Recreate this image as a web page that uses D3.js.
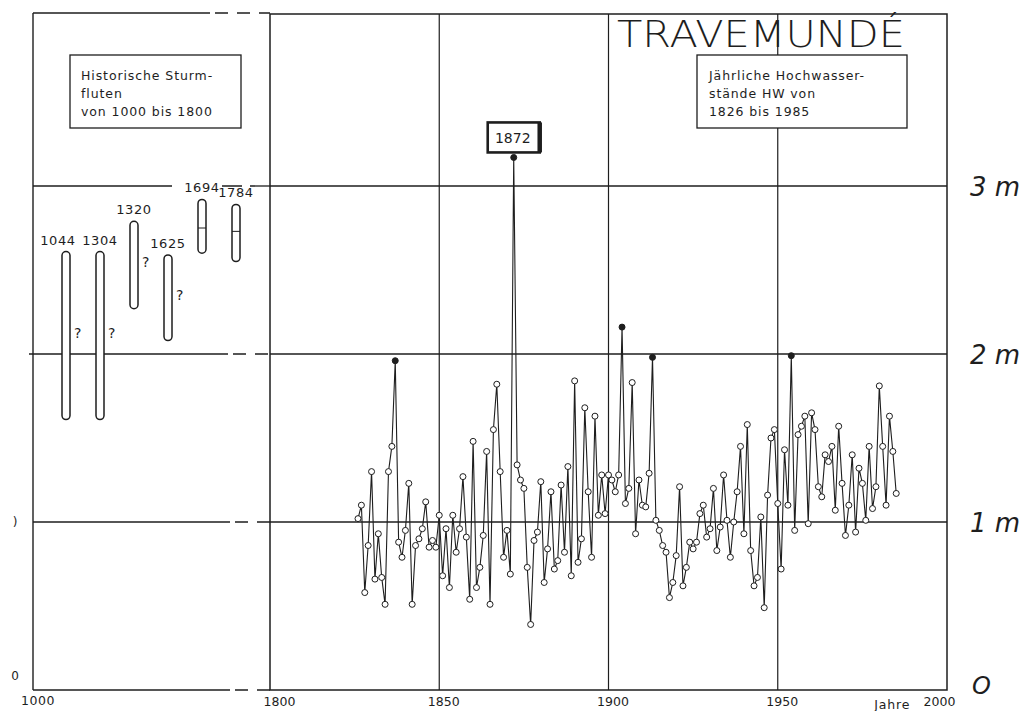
<!DOCTYPE html>
<html>
<head>
<meta charset="utf-8">
<script src="https://cdn.jsdelivr.net/npm/d3@7"></script>
<style>
  body { margin: 0; background: #fff; }
  svg { display: block; }
  text { font-family: "DejaVu Sans", sans-serif; fill: #1e1e1e; }
  .hand { font-family: "DejaVu Sans", sans-serif; font-style: italic; font-weight: 200; }
</style>
</head>
<body>
<svg id="chart" width="1025" height="711"></svg>
<script>
// yearly high water levels at Travemuende, 1826..1985 (m)
const firstYear = 1826;
const hw = [
  1.02, 1.10, 0.58, 0.86, 1.30, 0.66, 0.93, 0.67, 0.51, 1.30,
  1.45, 1.96, 0.88, 0.79, 0.95, 1.23, 0.51, 0.86, 0.90, 0.96,
  1.12, 0.85, 0.89, 0.85, 1.04, 0.68, 0.96, 0.61, 1.04, 0.82,
  0.96, 1.27, 0.91, 0.54, 1.48, 0.61, 0.73, 0.92, 1.42, 0.51,
  1.55, 1.82, 1.30, 0.79, 0.95, 0.69, 3.17, 1.34, 1.25, 1.20,
  0.73, 0.39, 0.89, 0.94, 1.24, 0.64, 0.84, 1.18, 0.72, 0.77,
  1.22, 0.82, 1.33, 0.68, 1.84, 0.76, 0.90, 1.68, 1.18, 0.79,
  1.63, 1.04, 1.28, 1.05, 1.28, 1.25, 1.18, 1.28, 2.16, 1.11,
  1.20, 1.83, 0.93, 1.25, 1.10, 1.09, 1.29, 1.98, 1.01, 0.95,
  0.86, 0.82, 0.55, 0.64, 0.80, 1.21, 0.62, 0.73, 0.88, 0.84,
  0.88, 1.05, 1.10, 0.91, 0.96, 1.20, 0.83, 0.97, 1.28, 1.01,
  0.79, 1.00, 1.18, 1.45, 0.93, 1.58, 0.83, 0.62, 0.67, 1.03,
  0.49, 1.16, 1.50, 1.55, 1.11, 0.72, 1.43, 1.10, 1.99, 0.95,
  1.52, 1.57, 1.63, 0.99, 1.65, 1.55, 1.21, 1.15, 1.40, 1.36,
  1.45, 1.07, 1.57, 1.23, 0.92, 1.10, 1.40, 0.94, 1.32, 1.23,
  1.01, 1.45, 1.08, 1.21, 1.81, 1.45, 1.10, 1.63, 1.42, 1.17
];
const markedYears = [1837, 1872, 1904, 1913, 1954];
const labelledYear = 1872;

// historical storm surges 1000..1800 (range bars)
const events = ['1044', '1304', '1320', '1625', '1694', '1784'];
const evTop = [2.61, 2.61, 2.79, 2.59, 2.92, 2.89];
const evBottom = [1.61, 1.61, 2.27, 2.08, 2.60, 2.55];
const evMid = [null, null, null, null, 2.75, 2.73];
const evUnsure = [true, true, true, true, false, false];

const yearTicks = [1800, 1850, 1900, 1950, 2000];
const levelTicks = [0, 1, 2, 3];
const levelLabels = ['O', '1 m', '2 m', '3 m'];
const leftTickLabels = ['0', ')'];

const title = 'TRAVEMUNDÉ';
const histLegend = ['Historische Sturm-', 'fluten', 'von 1000 bis 1800'];
const hwLegend = ['Jährliche Hochwasser-', 'stände HW von', '1826 bis 1985'];

const data = hw.map((v, i) => ({ year: firstYear + i, v, marked: markedYears.includes(firstYear + i) }));

const svg = d3.select('#chart');
const x = d3.scaleLinear().domain([1800, 2000]).range([270, 947]);
const y = d3.scaleLinear().domain([0, 3]).range([690, 186]);
const xl = d3.scalePoint().domain(events).range([66, 236]);
const leftX0 = 33, topY = 14;
const ink = '#1e1e1e';

// --- left panel (historic) ---
const left = svg.append('g');
left.append('line').attr('x1', leftX0).attr('x2', leftX0).attr('y1', topY - 1).attr('y2', y(0))
  .attr('stroke', ink).attr('stroke-width', 1.4);
// top, gridlines and bottom: solid part then dashed toward the main panel
[[topY - 1, 210], [y(2), 228], [y(1), 230], [y(0), 230]].forEach(([yy, end]) => {
  left.append('line').attr('x1', leftX0 - (yy === y(2) ? 4 : 0)).attr('x2', end).attr('y1', yy).attr('y2', yy)
    .attr('stroke', ink).attr('stroke-width', 1.3);
  left.append('line').attr('x1', end + 5).attr('x2', x(1800)).attr('y1', yy).attr('y2', yy)
    .attr('stroke', ink).attr('stroke-width', 1.3).attr('stroke-dasharray', '13,9');
});
left.append('line').attr('x1', leftX0).attr('x2', 172).attr('y1', y(3)).attr('y2', y(3))
  .attr('stroke', ink).attr('stroke-width', 1.3);
left.append('line').attr('x1', 222).attr('x2', x(1800)).attr('y1', y(3)).attr('y2', y(3))
  .attr('stroke', ink).attr('stroke-width', 1.3).attr('stroke-dasharray', '20,8');

left.selectAll('rect.ev').data(events).join('rect').attr('class', 'ev')
  .attr('x', d => xl(d) - 4).attr('width', 8)
  .attr('y', (d, i) => y(evTop[i])).attr('height', (d, i) => y(evBottom[i]) - y(evTop[i]))
  .attr('rx', 4).attr('fill', '#fff').attr('stroke', ink).attr('stroke-width', 1.5);
left.selectAll('line.mid').data(events.filter((d, i) => evMid[i] != null)).join('line').attr('class', 'mid')
  .attr('x1', d => xl(d) - 4).attr('x2', d => xl(d) + 4)
  .attr('y1', d => y(evMid[events.indexOf(d)])).attr('y2', d => y(evMid[events.indexOf(d)]))
  .attr('stroke', ink).attr('stroke-width', 1);
left.selectAll('text.ev').data(events).join('text').attr('class', 'ev')
  .attr('x', (d, i) => xl(d) - (i === 0 ? 8 : 0)).attr('y', (d, i) => y(evTop[i]) - 7)
  .attr('text-anchor', 'middle').attr('font-size', 13).attr('letter-spacing', 0.6).text(d => d);
left.selectAll('text.q').data(events.filter((d, i) => evUnsure[i])).join('text').attr('class', 'q')
  .attr('x', d => xl(d) + 8)
  .attr('y', d => { const i = events.indexOf(d); return (y(evTop[i]) + y(evBottom[i])) / 2 + 2; })
  .attr('font-size', 14).text('?');

left.selectAll('text.lt').data(leftTickLabels).join('text').attr('class', 'lt')
  .attr('x', 15).attr('y', (d, i) => y(i) + (i === 0 ? -10 : 4))
  .attr('text-anchor', 'middle').attr('font-size', 12).text(d => d);
left.append('text').attr('x', 38).attr('y', 705).attr('text-anchor', 'middle').attr('font-size', 12.5)
  .attr('letter-spacing', 0.5).text('1000');

const lb = left.append('g');
lb.append('rect').attr('x', 70).attr('y', 55).attr('width', 171).attr('height', 73)
  .attr('fill', '#fff').attr('stroke', ink).attr('stroke-width', 1.3);
lb.selectAll('text').data(histLegend).join('text').attr('x', 81).attr('y', (d, i) => 80 + i * 18)
  .attr('font-size', 12.5).attr('letter-spacing', 0.9).text(d => d);

// --- main panel ---
const main = svg.append('g');
main.append('rect').attr('x', x(1800)).attr('y', topY).attr('width', x(2000) - x(1800)).attr('height', y(0) - topY)
  .attr('fill', 'none').attr('stroke', ink).attr('stroke-width', 1.5);

const grid = main.append('g');
grid.selectAll('line.h').data(levelTicks.slice(1)).join('line').attr('class', 'h')
  .attr('x1', x(1800)).attr('x2', x(2000)).attr('y1', d => y(d)).attr('y2', d => y(d))
  .attr('stroke', ink).attr('stroke-width', 1.3);
grid.selectAll('line.v').data(yearTicks.slice(1, -1)).join('line').attr('class', 'v')
  .attr('x1', d => x(d)).attr('x2', d => x(d)).attr('y1', topY).attr('y2', y(0))
  .attr('stroke', ink).attr('stroke-width', 1.2);

// x axis labels
const xAxis = d3.axisBottom(x).tickValues(yearTicks).tickSize(0).tickPadding(6).tickFormat(d3.format('d'));
const ax = main.append('g').attr('transform', `translate(0,${y(0) + 1})`).call(xAxis);
ax.select('.domain').remove();
ax.selectAll('text').attr('font-size', 12.5).attr('font-family', '"DejaVu Sans", sans-serif')
  .attr('fill', ink).attr('dx', d => d === 1800 ? 9 : d === 2000 ? -8 : 4);
main.append('text').attr('x', x(1985) - 4).attr('y', 711 - 2).attr('text-anchor', 'middle')
  .attr('font-size', 12.5).attr('letter-spacing', 0.8).text('Jahre');

// right-hand handwritten level labels
main.selectAll('text.lvl').data(levelTicks).join('text').attr('class', 'lvl hand')
  .attr('x', d => d === 0 ? 972 : 970).attr('y', d => y(d) + (d === 0 ? 4 : 10))
  .attr('font-size', d => d === 0 ? 24 : 26).text((d, i) => levelLabels[i]);

// legend box for the series
const rb = main.append('g');
rb.append('rect').attr('x', 697).attr('y', 55).attr('width', 210).attr('height', 73)
  .attr('fill', '#fff').attr('stroke', ink).attr('stroke-width', 1.3);
rb.selectAll('text').data(hwLegend).join('text').attr('x', 709).attr('y', (d, i) => 80 + i * 18)
  .attr('font-size', 12.5).attr('letter-spacing', 0.9).text(d => d);

// title
main.append('text').attr('class', 'hand').attr('x', 617).attr('y', 47)
  .attr('font-size', 38).attr('textLength', 288).attr('lengthAdjust', 'spacingAndGlyphs')
  .style('font-style', 'normal').text(title);

// series
const line = d3.line().x(d => x(d.year)).y(d => y(d.v));
main.append('path').datum(data).attr('d', line).attr('fill', 'none')
  .attr('stroke', ink).attr('stroke-width', 1.1);
main.selectAll('circle.pt').data(data).join('circle').attr('class', 'pt')
  .attr('cx', d => x(d.year)).attr('cy', d => y(d.v)).attr('r', 3)
  .attr('fill', d => d.marked ? ink : '#fff').attr('stroke', ink).attr('stroke-width', 1);

// 1872 label
const p72 = data.find(d => d.year === labelledYear);
const lab = main.append('g').attr('transform', `translate(${x(p72.year)},${y(p72.v) - 4})`);
lab.append('rect').attr('x', -26).attr('y', -31).attr('width', 52).attr('height', 30)
  .attr('fill', '#fff').attr('stroke', ink).attr('stroke-width', 2.6);
lab.append('line').attr('x1', 26).attr('x2', 26).attr('y1', -31).attr('y2', -1)
  .attr('stroke', ink).attr('stroke-width', 4.5);
lab.append('text').attr('x', -1).attr('y', -10).attr('text-anchor', 'middle')
  .attr('font-size', 14).text(String(labelledYear));
</script>
</body>
</html>
